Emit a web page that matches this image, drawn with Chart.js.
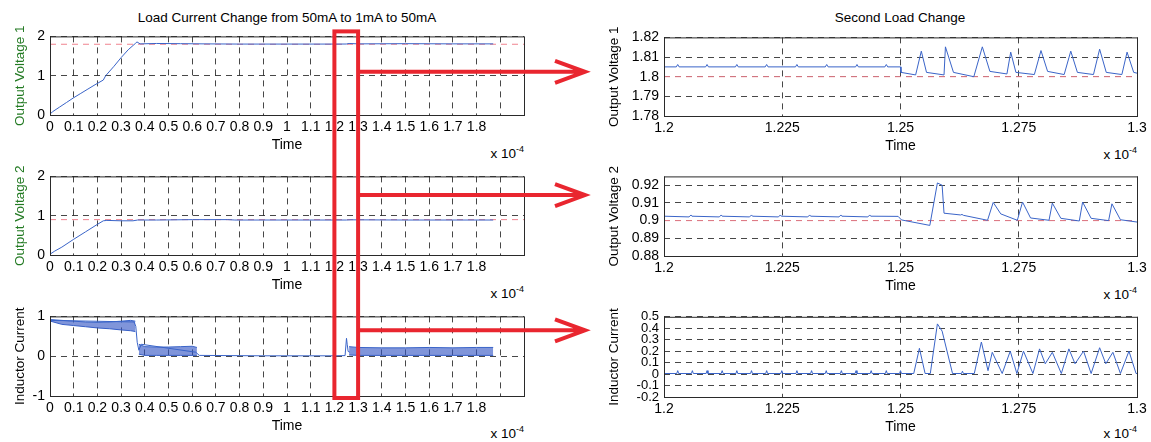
<!DOCTYPE html>
<html>
<head>
	<title>Load Current Change</title>
	<style>
		body { margin: 0; background: #fff; }
		#fig { position: relative; width: 1151px; height: 442px; overflow: hidden;
			font-family: 'Liberation Sans', Arial, Helvetica, sans-serif; color: #000; }
		#fig canvas { position: absolute; }
		.ttl { position: absolute; top: 10px; font-size: 13.5px; line-height: 16px; white-space: nowrap; transform: translateX(-50%); }
		.exp { position: absolute; font-size: 13.5px; line-height: 16px; height: 16px; white-space: nowrap; }
		.exp sup { font-size: 9px; line-height: 0; position: relative; top: -6px; vertical-align: baseline; }
	</style>
</head>
<body>
	<div id="fig">
		<div class="ttl" style="left:287px">Load Current Change from 50mA to 1mA to 50mA</div>
		<div class="ttl" style="left:900px">Second Load Change</div>
		<div class="exp" style="right:627px; top:146px">x 10<sup>-4</sup></div>
		<div class="exp" style="right:627px; top:286px">x 10<sup>-4</sup></div>
		<div class="exp" style="right:627px; top:426px">x 10<sup>-4</sup></div>
		<div class="exp" style="right:14px; top:147px">x 10<sup>-4</sup></div>
		<div class="exp" style="right:14px; top:287px">x 10<sup>-4</sup></div>
		<div class="exp" style="right:14px; top:426px">x 10<sup>-4</sup></div>
	</div>

	<script src="https://cdn.jsdelivr.net/npm/chart.js"></script>
	<script type="text/javascript">

		// time is in units of 1e-4 s
		var leftTimeTicks = [0, 0.1, 0.2, 0.3, 0.4, 0.5, 0.6, 0.7, 0.8, 0.9, 1, 1.1, 1.2, 1.3, 1.4, 1.5, 1.6, 1.7, 1.8, 1.9];
		var leftTimeLabels = ['0', '0.1', '0.2', '0.3', '0.4', '0.5', '0.6', '0.7', '0.8', '0.9', '1', '1.1', '1.2', '1.3', '1.4', '1.5', '1.6', '1.7', '1.8', ''];
		var rightTimeTicks = [1.2, 1.225, 1.25, 1.275, 1.3];
		var rightTimeLabels = ['1.2', '1.225', '1.25', '1.275', '1.3'];

		var v1Ticks = [0, 1, 2];
		var v2Ticks = [0, 1, 2];
		var ilTicks = [-1, 0, 1];
		var rv1Ticks = [1.78, 1.79, 1.8, 1.81, 1.82];
		var rv1Labels = ['1.78', '1.79', '1.8', '1.81', '1.82'];
		var rv2Ticks = [0.88, 0.89, 0.9, 0.91, 0.92];
		var rv2Labels = ['0.88', '0.89', '0.9', '0.91', '0.92'];
		var rilTicks = [-0.2, -0.1, 0, 0.1, 0.2, 0.3, 0.4, 0.5];
		var rilLabels = ['-0.2', '-0.1', '0', '0.1', '0.2', '0.3', '0.4', '0.5'];

		var v1Ref = 1.8;
		var v2Ref = 0.9;

		// whole run
		var v1Time   = [0, 0.01, 0.04, 0.07, 0.1, 0.13, 0.16, 0.19, 0.225, 0.235, 0.27, 0.3, 0.33, 0.36, 0.367, 0.38, 0.45, 0.55, 0.65, 0.8, 1.0, 1.2, 1.25, 1.262, 1.3, 1.5, 1.7, 1.87];
		var v1Values = [0.02, 0.08, 0.2, 0.32, 0.44, 0.55, 0.66, 0.77, 0.89, 1.0, 1.24, 1.46, 1.66, 1.82, 1.86, 1.81, 1.82, 1.815, 1.81, 1.805, 1.805, 1.805, 1.806, 1.82, 1.81, 1.815, 1.81, 1.81];

		var v2Time   = [0, 0.02, 0.05, 0.1, 0.15, 0.2, 0.225, 0.24, 0.3, 0.35, 0.37, 0.45, 0.6, 0.75, 0.78, 1.0, 1.25, 1.27, 1.5, 1.87];
		var v2Values = [0.02, 0.1, 0.2, 0.4, 0.59, 0.78, 0.87, 0.88, 0.87, 0.87, 0.89, 0.89, 0.9, 0.9, 0.89, 0.89, 0.89, 0.895, 0.89, 0.89];

		var ilTime   = [0, 0.002, 0.355, 0.362, 0.368, 0.375, 0.385, 0.615, 0.63, 0.9, 1.2, 1.245, 1.251, 1.254, 1.258, 1.265];
		var ilValues = [0.0, 0.9, 0.86, 0.75, 0.35, 0.15, 0.3, 0.1, 0.02, 0.01, 0.01, 0.015, 0.45, 0.3, 0.12, 0.1];

		// switching ripple envelopes of the inductor current
		var band1Time = [0.002, 0.05, 0.1, 0.15, 0.2, 0.25, 0.3, 0.34, 0.36];
		var band1High = [0.92, 0.9, 0.88, 0.86, 0.85, 0.86, 0.88, 0.9, 0.88];
		var band1Low  = [0.88, 0.8, 0.77, 0.74, 0.71, 0.69, 0.66, 0.64, 0.62];
		var band2Time = [0.375, 0.4, 0.45, 0.5, 0.55, 0.6, 0.62];
		var band2High = [0.3, 0.24, 0.23, 0.23, 0.24, 0.25, 0.22];
		var band2Low  = [0.05, 0.02, 0.02, 0.02, 0.02, 0.02, 0.02];
		var band3Time = [1.262, 1.3, 1.4, 1.5, 1.6, 1.7, 1.8, 1.87];
		var band3High = [0.24, 0.22, 0.21, 0.21, 0.22, 0.21, 0.22, 0.22];
		var band3Low  = [0.03, 0.02, 0.02, 0.02, 0.02, 0.02, 0.02, 0.02];

		// second load change, zoomed
		var rv1Time = [1.2, 1.2026, 1.2029, 1.2032, 1.2088, 1.2091, 1.2094, 1.2151, 1.2154, 1.2157, 1.2214, 1.2217, 1.2220,
			1.2278, 1.2281, 1.2284, 1.2341, 1.2344, 1.2347, 1.2405, 1.2408, 1.2411, 1.2467, 1.2470, 1.2473,
			1.25, 1.2501, 1.2532, 1.2544, 1.2555, 1.2592, 1.2595, 1.2612, 1.2655, 1.2673, 1.2689, 1.2725, 1.2733, 1.2744,
			1.2783, 1.2797, 1.2811, 1.2846, 1.2860, 1.2874, 1.2908, 1.2921, 1.2935, 1.2968, 1.2979, 1.2993, 1.3];
		var rv1Values = [1.805, 1.805, 1.8062, 1.805, 1.805, 1.8062, 1.805, 1.805, 1.8062, 1.805, 1.805, 1.8062, 1.805,
			1.805, 1.8062, 1.805, 1.805, 1.8062, 1.805, 1.805, 1.8062, 1.805, 1.805, 1.8062, 1.805,
			1.805, 1.8022, 1.8009, 1.813, 1.8022, 1.8009, 1.8152, 1.8022, 1.8000, 1.8152, 1.8027, 1.8014, 1.8125, 1.8022,
			1.8011, 1.8133, 1.8027, 1.8011, 1.813, 1.8022, 1.8011, 1.814, 1.8022, 1.8011, 1.8125, 1.8022, 1.8018];

		var rv2Time = [1.2, 1.2053, 1.2057, 1.2059, 1.2117, 1.2121, 1.2123, 1.2181, 1.2185, 1.2187, 1.2242, 1.2246, 1.2248,
			1.2304, 1.2308, 1.2310, 1.2370, 1.2374, 1.2376, 1.2431, 1.2435, 1.2437,
			1.2495, 1.2502, 1.2562, 1.2578, 1.2588, 1.2592, 1.2627, 1.2630, 1.2633, 1.2684, 1.2696, 1.2712,
			1.2747, 1.2758, 1.2775, 1.2814, 1.2821, 1.2839, 1.2878, 1.2885, 1.2903, 1.2940, 1.2947, 1.2965, 1.3];
		var rv2Values = [0.9025, 0.9021, 0.9032, 0.9025, 0.9021, 0.9032, 0.9025, 0.9021, 0.9032, 0.9025, 0.9021, 0.9032, 0.9025,
			0.9021, 0.9032, 0.9025, 0.9021, 0.9032, 0.9025, 0.9021, 0.9032, 0.9025,
			0.9024, 0.9004, 0.8973, 0.9213, 0.9200, 0.9042, 0.9032, 0.9035, 0.9030, 0.9002, 0.9103, 0.9038,
			0.9002, 0.9105, 0.9015, 0.9002, 0.9099, 0.9013, 0.8998, 0.9105, 0.9013, 0.9000, 0.9095, 0.9005, 0.8992];

		var rilTime = [1.2, 1.2027, 1.2029, 1.2031, 1.2058, 1.2060, 1.2062, 1.2089, 1.2091, 1.2093, 1.2121, 1.2123, 1.2125,
			1.2152, 1.2154, 1.2156, 1.2183, 1.2185, 1.2187, 1.2215, 1.2217, 1.2219, 1.2247, 1.2249, 1.2251,
			1.2279, 1.2281, 1.2283, 1.2310, 1.2312, 1.2314, 1.2341, 1.2343, 1.2345, 1.2373, 1.2375, 1.2377,
			1.2404, 1.2406, 1.2408, 1.2436, 1.2438, 1.2440, 1.2468, 1.2470, 1.2472, 1.2498, 1.2500, 1.2502,
			1.2528, 1.2540, 1.2552, 1.2563, 1.2578, 1.2588, 1.2610, 1.2629, 1.2631, 1.2633,
			1.2656, 1.2671, 1.2685, 1.2694, 1.2715, 1.2732, 1.2746, 1.2760, 1.2780, 1.2794,
			1.2806, 1.2821, 1.2840, 1.2856, 1.2869, 1.2887, 1.2903, 1.2921, 1.2934, 1.2949,
			1.2965, 1.2983, 1.2998, 1.3];
		var rilValues = [0.005, 0.005, 0.03, 0.005, 0.005, 0.03, 0.005, 0.005, 0.03, 0.005, 0.005, 0.03, 0.005,
			0.005, 0.03, 0.005, 0.005, 0.03, 0.005, 0.005, 0.03, 0.005, 0.005, 0.03, 0.005,
			0.005, 0.03, 0.005, 0.005, 0.03, 0.005, 0.005, 0.03, 0.005, 0.005, 0.03, 0.005,
			0.005, 0.03, 0.005, 0.005, 0.03, 0.005, 0.005, 0.03, 0.005, 0.005, 0.03, 0.005,
			0.005, 0.225, 0.005, 0.005, 0.438, 0.375, 0.005, 0.005, 0.025, 0.005,
			0.005, 0.28, 0.03, 0.19, 0.005, 0.2, 0.005, 0.2, 0.005, 0.22,
			0.09, 0.19, 0.005, 0.22, 0.09, 0.2, 0.005, 0.23, 0.09, 0.19,
			0.005, 0.2, 0.005, 0.005];

		// zoom window marked on the left plots, and where the arrows leave it
		var zoomWindow = [1.2, 1.3];
		var arrowLevels = [1.1, 1.525, 0.65];

		var blue = '#3a64c8';
		var bandBlue = 'rgba(50, 84, 196, 0.62)';
		var refRed = '#f0828e';
		var gridColor = 'rgba(0, 0, 0, 0.72)';
		var markRed = '#e9262f';

		Chart.defaults.font.family = "'Liberation Sans', Arial, Helvetica, sans-serif";
		Chart.defaults.font.size = 14;
		Chart.defaults.color = '#000';

		var fig = document.getElementById('fig');

		function pts(xs, ys) {
			return xs.map(function (x, i) { return {x: x, y: ys[i]}; });
		}

		function line(xs, ys, extra) {
			var ds = {data: pts(xs, ys), borderColor: blue, borderWidth: 1, fill: false};
			for (var k in extra) ds[k] = extra[k];
			return ds;
		}

		function refLine(xMin, xMax, level) {
			return {data: [{x: xMin, y: level}, {x: xMax, y: level}], borderColor: refRed, borderWidth: 1, borderDash: [6, 5], fill: false};
		}

		// MATLAB style box round the plot area
		var framePlugin = {
			id: 'frame',
			afterDatasetsDraw: function (chart) {
				var a = chart.chartArea, c = chart.ctx;
				c.save();
				c.strokeStyle = '#2a2a2a';
				c.lineWidth = 1;
				c.strokeRect(a.left + 0.5, a.top + 0.5, a.right - a.left, a.bottom - a.top);
				c.restore();
			}
		};

		function panel(o) {
			var T = 12, R = 14, B = 46;
			var cv = document.createElement('canvas');
			cv.width = o.axisW + o.w + R;
			cv.height = T + o.h + B;
			cv.style.left = (o.left - o.axisW) + 'px';
			cv.style.top = (o.top - T) + 'px';
			fig.appendChild(cv);

			return new Chart(cv, {
				type: 'line',
				data: {datasets: o.datasets},
				options: {
					responsive: false,
					animation: false,
					layout: {padding: {left: 0, top: T, right: R, bottom: 0}},
					plugins: {legend: {display: false}, tooltip: {enabled: false}},
					elements: {point: {radius: 0}, line: {tension: 0}},
					scales: {
						x: {
							type: 'linear', min: o.xMin, max: o.xMax,
							afterBuildTicks: function (s) { s.ticks = o.xTicks.map(function (v) { return {value: v}; }); },
							afterFit: function (s) { s.height = B; },
							ticks: {autoSkip: false, maxRotation: 0, padding: 4,
								callback: function (v, i) { return o.xLabels[i]; }},
							grid: {color: gridColor, drawTicks: false},
							border: {display: false, dash: [6, 5]},
							title: {display: true, text: 'Time', font: {size: 14}, padding: {top: 0, bottom: 7}}
						},
						y: {
							type: 'linear', min: o.yMin, max: o.yMax,
							afterBuildTicks: function (s) { s.ticks = o.yTicks.map(function (v) { return {value: v}; }); },
							afterFit: function (s) { s.width = o.axisW; },
							ticks: {autoSkip: false, padding: 5, font: {size: o.yFont || 14},
								callback: function (v, i) { return o.yLabels[i]; }},
							grid: {color: gridColor, drawTicks: false},
							border: {display: false, dash: [6, 5]},
							title: {display: true, text: o.yTitle, color: o.yTitleColor, font: {size: 13.5},
								padding: {top: o.yTitlePad, bottom: 0}}
						}
					}
				},
				plugins: [framePlugin]
			});
		}

		var green = '#237a23';
		var strLabels = function (arr) { return arr.map(String); };

		var cV1 = panel({left: 50, top: 35, w: 474, h: 80, axisW: 50, xMin: 0, xMax: 2,
			xTicks: leftTimeTicks, xLabels: leftTimeLabels, yMin: 0, yMax: 2, yTicks: v1Ticks, yLabels: strLabels(v1Ticks),
			yTitle: 'Output Voltage 1', yTitleColor: green, yTitlePad: 12,
			datasets: [line(v1Time, v1Values), refLine(0, 2, v1Ref)]});

		var cV2 = panel({left: 50, top: 175, w: 474, h: 80, axisW: 50, xMin: 0, xMax: 2,
			xTicks: leftTimeTicks, xLabels: leftTimeLabels, yMin: 0, yMax: 2, yTicks: v2Ticks, yLabels: strLabels(v2Ticks),
			yTitle: 'Output Voltage 2', yTitleColor: green, yTitlePad: 12,
			datasets: [line(v2Time, v2Values), refLine(0, 2, v2Ref)]});

		var cIL = panel({left: 50, top: 315, w: 474, h: 81, axisW: 50, xMin: 0, xMax: 2,
			xTicks: leftTimeTicks, xLabels: leftTimeLabels, yMin: -1, yMax: 1, yTicks: ilTicks, yLabels: strLabels(ilTicks),
			yTitle: 'Inductor Current', yTitleColor: '#000', yTitlePad: 12,
			datasets: [
				line(ilTime, ilValues),
				line(band1Time, band1High, {fill: '+1', backgroundColor: bandBlue}),
				line(band1Time, band1Low),
				line(band2Time, band2High, {fill: '+1', backgroundColor: bandBlue}),
				line(band2Time, band2Low),
				line(band3Time, band3High, {fill: '+1', backgroundColor: bandBlue}),
				line(band3Time, band3Low)
			]});

		var cRV1 = panel({left: 664, top: 36, w: 473, h: 80, axisW: 80, xMin: 1.2, xMax: 1.3,
			xTicks: rightTimeTicks, xLabels: rightTimeLabels, yMin: 1.78, yMax: 1.82, yTicks: rv1Ticks, yLabels: rv1Labels,
			yTitle: 'Output Voltage 1', yTitleColor: '#000', yTitlePad: 22,
			datasets: [line(rv1Time, rv1Values), refLine(1.2, 1.3, v1Ref)]});

		var cRV2 = panel({left: 664, top: 175, w: 473, h: 81, axisW: 80, xMin: 1.2, xMax: 1.3,
			xTicks: rightTimeTicks, xLabels: rightTimeLabels, yMin: 0.88, yMax: 0.925, yTicks: rv2Ticks, yLabels: rv2Labels,
			yTitle: 'Output Voltage 2', yTitleColor: '#000', yTitlePad: 22,
			datasets: [line(rv2Time, rv2Values), refLine(1.2, 1.3, v2Ref)]});

		var cRIL = panel({left: 664, top: 316, w: 473, h: 81, axisW: 80, xMin: 1.2, xMax: 1.3,
			xTicks: rightTimeTicks, xLabels: rightTimeLabels, yMin: -0.2, yMax: 0.5, yTicks: rilTicks, yLabels: rilLabels,
			yFont: 13, yTitle: 'Inductor Current', yTitleColor: '#000', yTitlePad: 22,
			datasets: [line(rilTime, rilValues)]});

		// red zoom box and arrows, placed through the charts' own scales
		var ov = document.createElement('canvas');
		ov.width = 1151; ov.height = 442;
		ov.style.left = '0px'; ov.style.top = '0px';
		fig.appendChild(ov);
		var g = ov.getContext('2d');

		function absX(ch, v) { return ch.scales.x.getPixelForValue(v) + ch.canvas.offsetLeft; }
		function absY(ch, v) { return ch.scales.y.getPixelForValue(v) + ch.canvas.offsetTop; }

		var bx0 = absX(cIL, zoomWindow[0]);
		var bx1 = absX(cIL, zoomWindow[1]);
		var by0 = cV1.chartArea.top + cV1.canvas.offsetTop - 5;
		var by1 = cIL.chartArea.bottom + cIL.canvas.offsetTop + 2;

		g.strokeStyle = markRed;
		g.lineWidth = 4;
		g.strokeRect(bx0, by0, bx1 - bx0, by1 - by0);

		[[cV1, cRV1], [cV2, cRV2], [cIL, cRIL]].forEach(function (pair, i) {
			var y = absY(pair[0], arrowLevels[i]);
			var tip = pair[1].chartArea.left + pair[1].canvas.offsetLeft - 79;
			g.beginPath();
			g.moveTo(bx1, y);
			g.lineTo(tip, y);
			g.moveTo(tip - 30, y - 11);
			g.lineTo(tip, y);
			g.lineTo(tip - 30, y + 11);
			g.stroke();
		});

	</script>
</body>
</html>
